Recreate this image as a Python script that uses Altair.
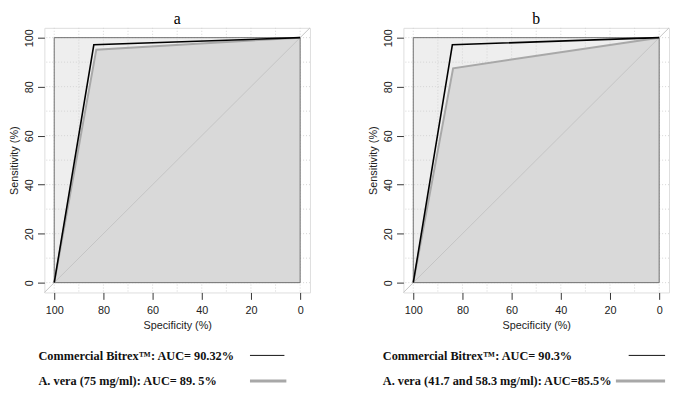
import altair as alt
import pandas as pd

# ---- data ----
spec_ticks = [100, 80, 60, 40, 20, 0]
sens_ticks = [0, 20, 40, 60, 80, 100]
grid_vals = [0, 10, 20, 30, 40, 50, 60, 70, 80, 90, 100]
axis_lim = [-4, 104]

a_spec_bitrex = [100, 83.9, 0]
a_sens_bitrex = [0, 97.1, 100]
a_spec_aloe = [100, 82.9, 0]
a_sens_aloe = [0, 95.1, 100]

b_spec_bitrex = [100, 84.1, 0]
b_sens_bitrex = [0, 97.1, 100]
b_spec_aloe = [100, 83.8, 0]
b_sens_aloe = [0, 87.5, 100]

titles = ["a", "b"]
legend_a = ["Commercial Bitrex\u2122: AUC= 90.32%", "A. vera (75 mg/ml): AUC= 89. 5%"]
legend_b = ["Commercial Bitrex\u2122: AUC= 90.3%", "A. vera (41.7 and 58.3 mg/ml): AUC=85.5%"]

W, H = 270, 269
SANS = "Liberation Sans"
SERIF = "Liberation Serif"


def xenc(field):
    return alt.X(f"{field}:Q",
                 scale=alt.Scale(domain=axis_lim, reverse=True, nice=False, zero=False),
                 axis=alt.Axis(values=spec_ticks, title="Specificity (%)", grid=False,
                               domain=False, tickSize=7, tickColor="#333", labelPadding=5,
                               labelFont=SANS, labelFontSize=11, labelColor="#222",
                               titleFont=SANS, titleFontSize=11, titleFontWeight="normal",
                               titleColor="#222", titlePadding=5, format="d"))


def yenc(field):
    return alt.Y(f"{field}:Q",
                 scale=alt.Scale(domain=axis_lim, nice=False, zero=False),
                 axis=alt.Axis(values=sens_ticks, title="Sensitivity (%)", grid=False,
                               domain=False, tickSize=7, tickColor="#333", labelPadding=3,
                               labelAngle=-90, labelAlign="center", labelBaseline="bottom",
                               labelFont=SANS, labelFontSize=11, labelColor="#222",
                               titleFont=SANS, titleFontSize=11, titleFontWeight="normal",
                               titleColor="#222", titlePadding=4, format="d"))


def panel(title, sk, yk, sg, yg, legend, leg_x, l1, l2):
    square = pd.DataFrame({"x": [100], "x2": [0], "y": [0], "y2": [100]})
    grid = pd.DataFrame({"g": grid_vals})
    diag = pd.DataFrame({"x": [axis_lim[1]], "x2": [axis_lim[0]],
                         "y": [axis_lim[0]], "y2": [axis_lim[1]]})
    aloe = pd.DataFrame({"x": sg, "y": yg, "base": [0, 0, 0], "o": [0, 1, 2]})
    bit = pd.DataFrame({"x": sk, "y": yk, "o": [0, 1, 2]})
    leg = pd.DataFrame({"t": legend})

    bg = alt.Chart(square).mark_rect(fill="#eeeeee", strokeOpacity=0).encode(
        x=xenc("x"), x2="x2", y=yenc("y"), y2="y2")
    gx = alt.Chart(grid).mark_rule(color="#d4d4d4", strokeDash=[1, 2], strokeWidth=1).encode(
        x=xenc("g"))
    gy = alt.Chart(grid).mark_rule(color="#d4d4d4", strokeDash=[1, 2], strokeWidth=1).encode(
        y=yenc("g"))
    area = alt.Chart(aloe).mark_area(color="#d9d9d9", opacity=1).encode(
        x=xenc("x"), y=yenc("y"), y2="base:Q")
    outline = alt.Chart(square).mark_rect(fillOpacity=0, stroke="#6e6e6e", strokeWidth=1).encode(
        x=xenc("x"), x2="x2", y=yenc("y"), y2="y2")
    diag_l = alt.Chart(diag).mark_rule(color="#c4c4c4", strokeWidth=1).encode(
        x=xenc("x"), x2="x2", y=yenc("y"), y2="y2")
    aloe_l = alt.Chart(aloe).mark_line(color="#a8a8a8", strokeWidth=2).encode(
        x=xenc("x"), y=yenc("y"), order="o:Q")
    bit_l = alt.Chart(bit).mark_line(color="#000000", strokeWidth=1.6).encode(
        x=xenc("x"), y=yenc("y"), order="o:Q")

    tstyle = dict(align="left", baseline="middle", font=SERIF,
                  fontWeight="bold", fontSize=12.5, color="#111")
    t1 = alt.Chart(leg.iloc[[0]]).mark_text(**tstyle).encode(
        x=alt.value(leg_x), y=alt.value(334), text="t:N")
    t2 = alt.Chart(leg.iloc[[1]]).mark_text(**tstyle).encode(
        x=alt.value(leg_x), y=alt.value(359), text="t:N")
    k1 = alt.Chart(leg.iloc[[0]]).mark_rule(color="#111", strokeWidth=1).encode(
        x=alt.value(l1[0]), x2=alt.value(l1[1]), y=alt.value(333))
    k2 = alt.Chart(leg.iloc[[1]]).mark_rule(color="#a8a8a8", strokeWidth=3).encode(
        x=alt.value(l2[0]), x2=alt.value(l2[1]), y=alt.value(359))

    return alt.layer(bg, gx, gy, area, outline, diag_l, aloe_l, bit_l, t1, t2, k1, k2).properties(
        width=W, height=H,
        title=alt.TitleParams(title, font=SERIF, fontSize=16, fontWeight="normal",
                              color="#000", anchor="middle", offset=0))


pa = panel(titles[0], a_spec_bitrex, a_sens_bitrex, a_spec_aloe, a_sens_aloe,
           legend_a, -6, (209, 244), (209, 246))
pb = panel(titles[1], b_spec_bitrex, b_sens_bitrex, b_spec_aloe, b_sens_aloe,
           legend_b, -21, (229, 266), (216, 266))

chart = alt.hconcat(pa, pb, spacing=57).properties(padding=0).configure_view(
    stroke="#9a9a9a", strokeWidth=1).configure(background="white")

chart.save("out.html", embed_options={"renderer": "svg", "actions": False})
